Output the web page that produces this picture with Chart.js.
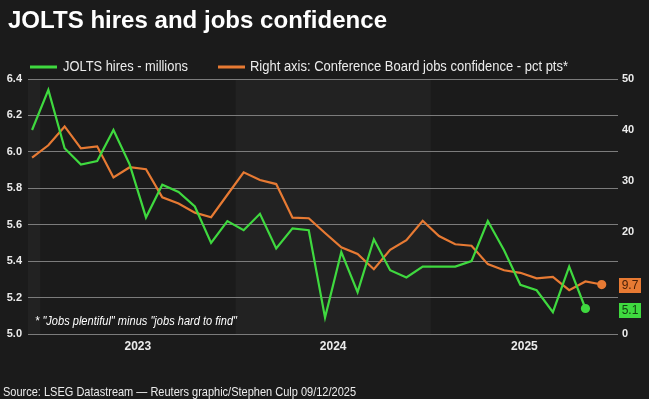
<!DOCTYPE html>
<html>
<head>
<meta charset="utf-8">
<script src="https://cdn.jsdelivr.net/npm/chart.js@4.4.1/dist/chart.umd.min.js"></script>
<style>
  html, body { margin: 0; padding: 0; background: #1b1b1b; }
  canvas { display: block; }
</style>
</head>
<body>
<canvas id="c" width="649" height="399"></canvas>
<script>
// ---- data ----
const months = ['Dec 2022',
  'Jan 2023','Feb 2023','Mar 2023','Apr 2023','May 2023','Jun 2023','Jul 2023','Aug 2023','Sep 2023','Oct 2023','Nov 2023','Dec 2023',
  'Jan 2024','Feb 2024','Mar 2024','Apr 2024','May 2024','Jun 2024','Jul 2024','Aug 2024','Sep 2024','Oct 2024','Nov 2024','Dec 2024',
  'Jan 2025','Feb 2025','Mar 2025','Apr 2025','May 2025','Jun 2025','Jul 2025','Aug 2025','Sep 2025','Oct 2025','Nov 2025'];

// JOLTS hires, millions (left axis) - Dec 2022 .. Oct 2025
const hires = [6.12, 6.34, 6.02, 5.93, 5.95, 6.12, 5.93, 5.64, 5.82, 5.78, 5.70, 5.50,
  5.62, 5.57, 5.66, 5.47, 5.58, 5.57, 5.09, 5.45, 5.23, 5.52, 5.35, 5.31,
  5.37, 5.37, 5.37, 5.40, 5.62, 5.46, 5.27, 5.24, 5.12, 5.37, 5.14];

// Conference Board jobs confidence, pct pts (right axis) - Dec 2022 .. Nov 2025
const confidence = [34.6, 37.0, 40.7, 36.4, 36.8, 30.7, 32.7, 32.3, 26.8, 25.6, 23.8, 22.9,
  27.3, 31.7, 30.2, 29.4, 22.8, 22.7, 19.8, 17.0, 15.7, 12.7, 16.5, 18.4,
  22.2, 19.2, 17.6, 17.3, 13.7, 12.5, 12.0, 10.9, 11.2, 8.6, 10.3, 9.7];

const yearLabels = ['2023', '2024', '2025'];
const leftTicks = { min: 5.0, max: 6.4, step: 0.2 };
const rightTicks = { min: 0, max: 50, step: 10 };

const seriesNames = ['JOLTS hires - millions', 'Right axis: Conference Board jobs confidence - pct pts*'];
const titleText = 'JOLTS hires and jobs confidence';
const footnoteText = '* "Jobs plentiful" minus "jobs hard to find"';
const sourceText = 'Source: LSEG Datastream \u2014 Reuters graphic/Stephen Culp 09/12/2025';

// ---- styling ----
const GREEN = '#3fd93f';
const ORANGE = '#e77a33';
const BG = '#1b1b1b';
const BAND = '#222222';
const GRID = '#7c7c7c';
const TXT = '#ececec';
const SANS = '"Liberation Sans", Arial, sans-serif';

const X_MIN = -0.25, X_MAX = 36.0;

const yearStartIdx = yearLabels.map(y => months.indexOf('Jan ' + y) - 0.5);
const yearCenters = yearStartIdx.map((s, k) => {
  const e = k + 1 < yearStartIdx.length ? yearStartIdx[k + 1] : X_MAX;
  return (s + e) / 2;
});

const hiresPts = hires.map((v, i) => ({ x: i, y: v }));
const confPts = confidence.map((v, i) => ({ x: i, y: v }));
const lastRadius = (n) => (ctx) => ctx.dataIndex === n - 1 ? 3.5 : 0;

// draw text squeezed horizontally to a given width (narrow-font look)
function fitText(ctx, text, x, y, width) {
  const w = ctx.measureText(text).width;
  ctx.save();
  ctx.translate(x, y);
  ctx.scale(width / w, 1);
  ctx.fillText(text, 0, 0);
  ctx.restore();
}

const decor = {
  id: 'decor',
  beforeDraw(chart) {
    const { ctx, chartArea: a, scales: { x } } = chart;
    ctx.save();
    ctx.fillStyle = BG;
    ctx.fillRect(0, 0, chart.width, chart.height);
    const edges = [X_MIN, ...yearStartIdx, X_MAX];
    for (let k = 0; k < edges.length - 1; k++) {
      if (k % 2 === 0) {
        const x0 = x.getPixelForValue(edges[k]);
        const x1 = x.getPixelForValue(edges[k + 1]);
        ctx.fillStyle = BAND;
        ctx.fillRect(x0, a.top, x1 - x0, a.bottom - a.top);
      }
    }
    ctx.restore();
  },
  afterDraw(chart) {
    const { ctx, scales: { y, y1 } } = chart;
    ctx.save();
    // title
    ctx.fillStyle = '#ffffff';
    ctx.font = 'bold 24px ' + SANS;
    ctx.textBaseline = 'alphabetic';
    ctx.textAlign = 'left';
    fitText(ctx, titleText, 8, 28, 379);

    // legend
    ctx.font = '14px ' + SANS;
    ctx.textBaseline = 'middle';
    const ly = 67;
    const leg = [
      { col: GREEN, lx: 30, tx: 63, tw: 125 },
      { col: ORANGE, lx: 218, tx: 250, tw: 318 }
    ];
    leg.forEach((it, k) => {
      ctx.fillStyle = it.col;
      ctx.fillRect(it.lx, ly - 1.5, 27, 3);
      ctx.fillStyle = TXT;
      fitText(ctx, seriesNames[k], it.tx, ly, it.tw);
    });

    // footnote
    ctx.font = 'italic 12px ' + SANS;
    ctx.fillStyle = '#ffffff';
    ctx.textBaseline = 'alphabetic';
    fitText(ctx, footnoteText, 35, 325, 202);

    // source
    ctx.font = '13px ' + SANS;
    ctx.fillStyle = TXT;
    fitText(ctx, sourceText, 3, 396, 353);

    // end value labels
    const boxes = [
      { v: confidence[confidence.length - 1], py: y1.getPixelForValue(confidence[confidence.length - 1]), col: ORANGE, txt: '#4a2008' },
      { v: hires[hires.length - 1], py: y.getPixelForValue(hires[hires.length - 1]) + 1, col: GREEN, txt: '#124012' }
    ];
    ctx.font = '12px ' + SANS;
    ctx.textBaseline = 'middle';
    ctx.textAlign = 'center';
    boxes.forEach(b => {
      ctx.fillStyle = b.col;
      ctx.fillRect(619, Math.round(b.py) - 7, 22, 15);
      ctx.fillStyle = b.txt;
      ctx.fillText(b.v.toFixed(1), 630, Math.round(b.py) + 0.5);
    });
    ctx.restore();
  }
};

new Chart(document.getElementById('c'), {
  type: 'line',
  data: {
    datasets: [
      { label: seriesNames[0], data: hiresPts, yAxisID: 'y', borderColor: GREEN, backgroundColor: GREEN,
        borderWidth: 2.2, pointRadius: lastRadius(hires.length), pointHoverRadius: 0, tension: 0 },
      { label: seriesNames[1], data: confPts, yAxisID: 'y1', borderColor: ORANGE, backgroundColor: ORANGE,
        borderWidth: 2.2, pointRadius: lastRadius(confidence.length), pointHoverRadius: 0, tension: 0 }
    ]
  },
  options: {
    responsive: false,
    animation: false,
    devicePixelRatio: 1,
    layout: { padding: { top: 79, bottom: 40, left: 0, right: 0 } },
    plugins: { legend: { display: false }, title: { display: false }, tooltip: { enabled: false } },
    scales: {
      x: {
        type: 'linear', min: X_MIN, max: X_MAX,
        grid: { display: false, drawTicks: false },
        border: { display: false },
        afterBuildTicks: (s) => { s.ticks = yearCenters.map(v => ({ value: v })); },
        afterFit: (s) => { s.height = 25; },
        ticks: {
          padding: 5, color: TXT, font: { family: SANS, size: 12, weight: 'bold' }, maxRotation: 0,
          callback: (v) => { const k = yearCenters.indexOf(v); return k >= 0 ? yearLabels[k] : ''; }
        }
      },
      y: {
        position: 'left', min: leftTicks.min, max: leftTicks.max,
        grid: { color: GRID, lineWidth: 1, drawTicks: false },
        border: { display: false },
        afterFit: (s) => { s.width = 28; },
        ticks: { stepSize: leftTicks.step, padding: 6, color: TXT, font: { family: SANS, size: 11, weight: 'bold' },
          callback: (v) => Number(v).toFixed(1) }
      },
      y1: {
        position: 'right', min: rightTicks.min, max: rightTicks.max,
        grid: { display: false, drawTicks: false },
        border: { display: false },
        afterFit: (s) => { s.width = 31; },
        ticks: { stepSize: rightTicks.step, padding: 4, color: TXT, font: { family: SANS, size: 11, weight: 'bold' } }
      }
    }
  },
  plugins: [decor]
});
</script>
</body>
</html>
